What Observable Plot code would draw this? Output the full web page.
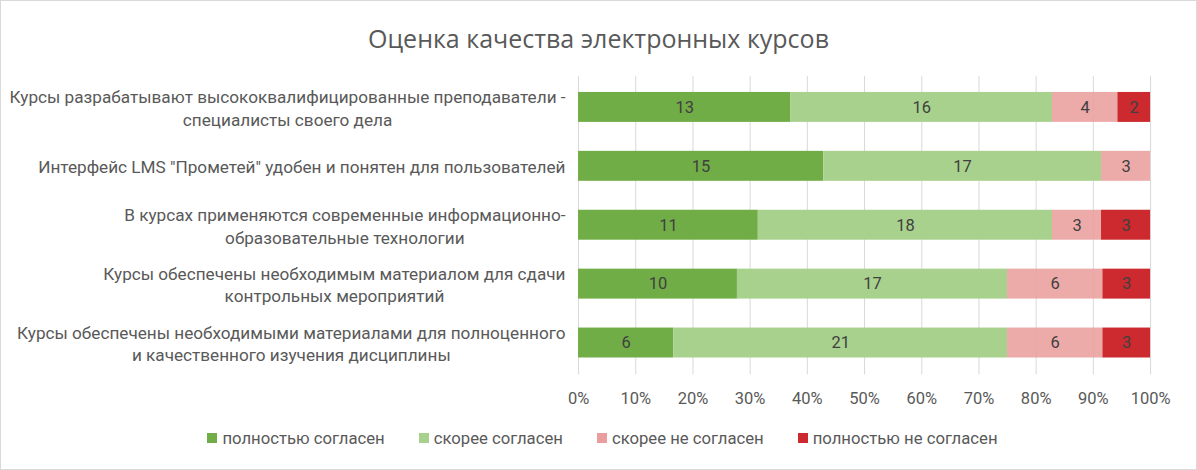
<!DOCTYPE html>
<html>
<head>
<meta charset="utf-8">
<script src="https://cdn.jsdelivr.net/npm/d3@7"></script>
<script src="https://cdn.jsdelivr.net/npm/@observablehq/plot@0.6"></script>
<style>
  html, body { margin: 0; padding: 0; background: #fff; }
  #wrap { width: 1197px; height: 470px; box-sizing: border-box; border: 1px solid #d9d9d9; position: relative; overflow: hidden; font-family: Roboto, "Noto Sans", sans-serif; }
  #title { height: 61px; box-sizing: border-box; padding-top: 14px; line-height: 46px; text-align: center; font-family: "Open Sans", sans-serif; font-size: 25px; color: #595959; }
  #chart svg { display: block; }
  #legend { display: flex; justify-content: center; align-items: center; gap: 34px; height: 36px; font-size: 16.7px; color: #595959; padding-left: 8px; }
  .item { display: flex; align-items: center; gap: 5px; }
  .sw { width: 10px; height: 10px; display: inline-block; }
</style>
</head>
<body>
<div id="wrap">
  <div id="title"></div>
  <div id="chart"></div>
  <div id="legend"></div>
</div>
<script>
const title = "Оценка качества электронных курсов";
const categories = [
  "Курсы разрабатывают высококвалифицированные преподаватели -\nспециалисты своего дела",
  "Интерфейс LMS \"Прометей\" удобен и понятен для пользователей",
  "В курсах применяются современные информационно-\nобразовательные технологии",
  "Курсы обеспечены необходимым материалом для сдачи\nконтрольных мероприятий",
  "Курсы обеспечены необходимыми материалами для полноценного\nи качественного изучения дисциплины"
];
const seriesNames = ["полностью согласен", "скорее согласен", "скорее не согласен", "полностью не согласен"];
const fullyAgree = [13, 15, 11, 10, 6];
const ratherAgree = [16, 17, 18, 17, 21];
const ratherDisagree = [4, 3, 3, 6, 6];
const fullyDisagree = [2, 0, 3, 3, 3];
const colors = ["#70AD47", "#A9D18E", "#E99E9D", "#CC2A2E"];
const xTicks = [0, 0.1, 0.2, 0.3, 0.4, 0.5, 0.6, 0.7, 0.8, 0.9, 1];

const seriesValues = [fullyAgree, ratherAgree, ratherDisagree, fullyDisagree];
const rows = [];
categories.forEach((c, i) => {
  seriesNames.forEach((s, j) => rows.push({cat: c, series: s, value: seriesValues[j][i]}));
});

document.getElementById("title").textContent = title;

const labelSize = 17.2;
const ctx = document.createElement("canvas").getContext("2d");
ctx.font = labelSize + "px Roboto";
const labelMarks = categories.map(c => {
  const w = d3.max(c.split("\n"), l => ctx.measureText(l).width);
  return Plot.text([c], {
    x: () => 0, y: d => d, text: d => d, textAnchor: "middle",
    dx: -(13 + w / 2), lineHeight: 1.3, fontSize: labelSize, fill: "#595959"
  });
});

const chart = Plot.plot({
  width: 1197,
  height: 359,
  marginLeft: 578,
  marginRight: 46,
  marginTop: 14,
  marginBottom: 46,
  style: {fontFamily: "Roboto, 'Noto Sans', sans-serif", background: "transparent"},
  x: {domain: [0, 1], ticks: xTicks, tickFormat: d3.format(".0%"), tickSize: 0, tickPadding: 17, label: null},
  y: {domain: categories, paddingInner: 0.49, paddingOuter: 0.245, axis: null},
  color: {domain: seriesNames, range: colors},
  marks: [
    Plot.gridX(xTicks, {stroke: "#d9d9d9", strokeOpacity: 1}),
    Plot.barX(rows, Plot.stackX({offset: "normalize", order: seriesNames, x: "value", y: "cat", z: "series", fill: "series",
      fillOpacity: d => d.series === "скорее не согласен" ? 0.88 : 1})),
    Plot.text(rows, Plot.stackX({offset: "normalize", order: seriesNames, x: "value", y: "cat", z: "series",
      text: d => d.value > 0 ? String(d.value) : "", fill: "#404040", fontSize: 16.5})),
    ...labelMarks
  ]
});
const xl = chart.querySelector("g[aria-label='x-axis tick label']");
if (xl) { xl.setAttribute("font-size", "16.5"); xl.setAttribute("fill", "#595959"); }
document.getElementById("chart").appendChild(chart);

const legend = document.getElementById("legend");
seriesNames.forEach((s, i) => {
  const it = document.createElement("div");
  it.className = "item";
  const sw = document.createElement("span");
  sw.className = "sw";
  sw.style.background = colors[i];
  const tx = document.createElement("span");
  tx.textContent = s;
  it.appendChild(sw); it.appendChild(tx);
  legend.appendChild(it);
});
</script>
</body>
</html>
